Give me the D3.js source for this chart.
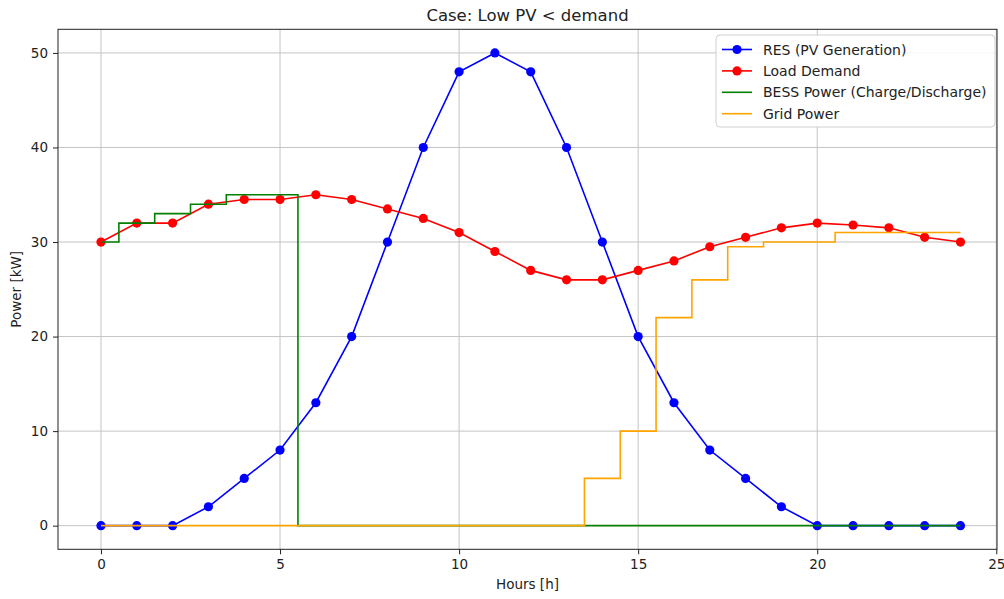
<!DOCTYPE html>
<html>
<head>
<meta charset="utf-8">
<script src="https://cdn.jsdelivr.net/npm/d3@7"></script>
<style>
  html, body { margin: 0; padding: 0; background: #fff; }
  text { font-family: "DejaVu Sans", sans-serif; fill: #222; }
</style>
</head>
<body>
<svg id="chart" width="1004" height="599"></svg>
<script>
// Hourly profile, 0..24 h
const hours = d3.range(0, 25);
const resPV = [0, 0, 0, 2, 5, 8, 13, 20, 30, 40, 48, 50, 48, 40, 30, 20, 13, 8, 5, 2, 0, 0, 0, 0, 0];
const loadDemand = [30, 32, 32, 34, 34.5, 34.5, 35, 34.5, 33.5, 32.5, 31, 29, 27, 26, 26, 27, 28, 29.5, 30.5, 31.5, 32, 31.8, 31.5, 30.5, 30];
const bessPower = [30, 32, 33, 34, 35, 35, 0, 0, 0, 0, 0, 0, 0, 0, 0, 0, 0, 0, 0, 0, 0, 0, 0, 0, 0];
const gridPower = [0, 0, 0, 0, 0, 0, 0, 0, 0, 0, 0, 0, 0, 0, 5, 10, 22, 26, 29.5, 30, 30, 31, 31, 31, 31];
const xTicks = [0, 5, 10, 15, 20, 25];
const yTicks = [0, 10, 20, 30, 40, 50];
const seriesNames = ["RES (PV Generation)", "Load Demand", "BESS Power (Charge/Discharge)", "Grid Power"];
const seriesColors = ["#0000ff", "#ff0000", "#008000", "#ffa500"];

const svg = d3.select("#chart");
const W = 1004, H = 599;
const plot = { left: 58, right: 997, top: 29.3, bottom: 549.3 };

svg.append("rect").attr("width", W).attr("height", H).attr("fill", "#fff");

const x = d3.scaleLinear().domain([-1.2, 25.02]).range([plot.left, plot.right]);
const y = d3.scaleLinear().domain([-2.5, 52.5]).range([plot.bottom, plot.top]);

// clip region for data marks
svg.append("defs").append("clipPath").attr("id", "plotClip")
  .append("rect")
  .attr("x", plot.left).attr("y", plot.top)
  .attr("width", plot.right - plot.left).attr("height", plot.bottom - plot.top);

// grid lines
const grid = svg.append("g").attr("class", "grid");
grid.selectAll("line.gx").data(xTicks).join("line")
  .attr("x1", d => x(d)).attr("x2", d => x(d))
  .attr("y1", plot.top).attr("y2", plot.bottom)
  .attr("stroke", "#c4c4c4").attr("stroke-width", 1);
grid.selectAll("line.gy").data(yTicks).join("line")
  .attr("x1", plot.left).attr("x2", plot.right)
  .attr("y1", d => y(d)).attr("y2", d => y(d))
  .attr("stroke", "#c4c4c4").attr("stroke-width", 1);

// axes
const xAxis = svg.append("g")
  .attr("transform", `translate(0,${plot.bottom})`)
  .call(d3.axisBottom(x).tickValues(xTicks).tickSize(5).tickPadding(5).tickFormat(d3.format("d")));
const yAxis = svg.append("g")
  .attr("transform", `translate(${plot.left},0)`)
  .call(d3.axisLeft(y).tickValues(yTicks).tickSize(5).tickPadding(5).tickFormat(d3.format("d")));
[xAxis, yAxis].forEach(a => {
  a.select(".domain").remove();
  a.selectAll(".tick line").attr("stroke", "#222");
  a.selectAll(".tick text").attr("font-size", 13.5).attr("fill", "#222")
    .attr("font-family", "DejaVu Sans, sans-serif");
});

// data series
const marks = svg.append("g").attr("clip-path", "url(#plotClip)");
const lineSmooth = d3.line().x((d, i) => x(hours[i])).y(d => y(d));
const lineStep = d3.line().x((d, i) => x(hours[i])).y(d => y(d)).curve(d3.curveStep);

function markerSeries(values, color) {
  marks.append("path").datum(values)
    .attr("d", lineSmooth).attr("fill", "none")
    .attr("stroke", color).attr("stroke-width", 1.6);
  marks.append("g").selectAll("circle").data(values).join("circle")
    .attr("cx", (d, i) => x(hours[i])).attr("cy", d => y(d))
    .attr("r", 4.6).attr("fill", color);
}
function stepSeries(values, color) {
  marks.append("path").datum(values)
    .attr("d", lineStep).attr("fill", "none")
    .attr("stroke", color).attr("stroke-width", 1.6);
}
markerSeries(resPV, seriesColors[0]);
markerSeries(loadDemand, seriesColors[1]);
stepSeries(bessPower, seriesColors[2]);
stepSeries(gridPower, seriesColors[3]);

// frame
svg.append("rect")
  .attr("x", plot.left).attr("y", plot.top)
  .attr("width", plot.right - plot.left).attr("height", plot.bottom - plot.top)
  .attr("fill", "none").attr("stroke", "#222").attr("stroke-width", 1);

// title and axis labels
svg.append("text").attr("x", (plot.left + plot.right) / 2).attr("y", 21)
  .attr("text-anchor", "middle").attr("font-size", 16.5)
  .text("Case: Low PV < demand");
svg.append("text").attr("x", (plot.left + plot.right) / 2).attr("y", 589)
  .attr("text-anchor", "middle").attr("font-size", 13.5)
  .text("Hours [h]");
svg.append("text")
  .attr("transform", `translate(21,${(plot.top + plot.bottom) / 2}) rotate(-90)`)
  .attr("text-anchor", "middle").attr("font-size", 13.5)
  .text("Power [kW]");

// legend
const legend = svg.append("g").attr("transform", "translate(716,35)");
legend.append("rect").attr("width", 279).attr("height", 92).attr("rx", 4)
  .attr("fill", "#fff").attr("fill-opacity", 0.85)
  .attr("stroke", "#d0d0d0").attr("stroke-width", 1);
seriesNames.forEach((name, i) => {
  const row = legend.append("g").attr("transform", `translate(0,${14.5 + i * 21.4})`);
  row.append("line").attr("x1", 6).attr("x2", 36).attr("y1", 0).attr("y2", 0)
    .attr("stroke", seriesColors[i]).attr("stroke-width", 1.6);
  if (i < 2) {
    row.append("circle").attr("cx", 21).attr("cy", 0).attr("r", 4.6).attr("fill", seriesColors[i]);
  }
  row.append("text").attr("x", 47).attr("y", 5).attr("font-size", 14).text(name);
});
</script>
</body>
</html>
